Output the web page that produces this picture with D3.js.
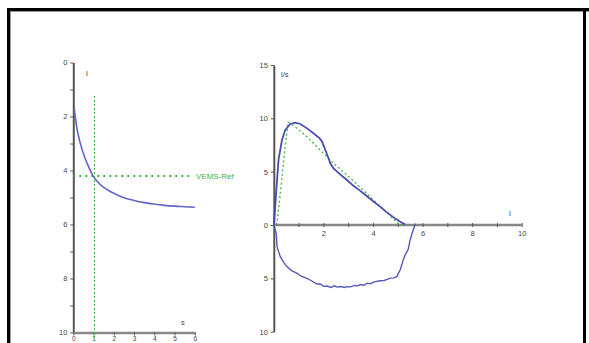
<!DOCTYPE html>
<html>
<head>
<meta charset="utf-8">
<script src="https://cdn.jsdelivr.net/npm/d3@7"></script>
<style>
  html, body { margin: 0; padding: 0; background: #fff; }
  svg { display: block; }
  text { font-family: "Liberation Sans", Arial, sans-serif; }
</style>
</head>
<body>
<script>
// ---------- data ----------
// Left chart: volume (l) vs time (s), axis inverted
const volTime = [0.05, 0.17, 0.33, 0.58, 0.79, 0.97, 1.2, 1.45, 1.7, 2.0, 2.47, 3.0, 3.5, 3.95, 4.5, 5.0, 5.5, 6.0];
const volValue = [1.73, 2.4, 2.95, 3.55, 3.92, 4.19, 4.42, 4.6, 4.72, 4.84, 5.0, 5.11, 5.19, 5.24, 5.29, 5.32, 5.34, 5.36];
const vemsRef = 4.2;     // reference volume (l)
const vemsTime = 1;      // 1 second marker
const leftXTicks = [0, 1, 2, 3, 4, 5, 6];
const leftYTicks = [0, 1, 2, 3, 4, 5, 6, 7, 8, 9, 10];

// Right chart: flow (l/s) vs volume (l)
const expVol = [0, 0.05, 0.1, 0.19, 0.33, 0.46, 0.66, 0.87, 1.07, 1.34, 1.6, 1.85, 1.95, 2.08, 2.2, 2.28, 2.41, 2.7, 2.95, 3.2, 3.49, 3.76, 4.02, 4.3, 4.5, 4.7, 4.9, 5.1, 5.3];
const expFlow = [0, 1.5, 3.2, 6.1, 7.97, 8.9, 9.47, 9.59, 9.47, 9.06, 8.6, 8.12, 7.8, 7.03, 6.3, 5.78, 5.31, 4.7, 4.22, 3.7, 3.2, 2.7, 2.2, 1.7, 1.3, 0.95, 0.6, 0.3, 0.05];
const inspVol = [0, 0.05, 0.1, 0.13, 0.26, 0.4, 0.53, 0.7, 0.94, 1.1, 1.34, 1.5, 1.74, 1.9, 2.0, 2.15, 2.3, 2.45, 2.55, 2.7, 2.85, 2.95, 3.1, 3.25, 3.35, 3.5, 3.65, 3.76, 3.9, 4.05, 4.29, 4.45, 4.6, 4.7, 4.85, 4.96, 5.1, 5.23, 5.32, 5.42, 5.5, 5.62, 5.72];
const inspFlow = [0, -0.4, -0.78, -2.03, -2.97, -3.5, -3.9, -4.25, -4.53, -4.8, -5.0, -5.2, -5.53, -5.55, -5.75, -5.72, -5.85, -5.7, -5.82, -5.76, -5.85, -5.78, -5.8, -5.66, -5.72, -5.58, -5.65, -5.45, -5.5, -5.33, -5.22, -5.2, -5.08, -4.98, -4.95, -4.84, -4.2, -3.2, -2.7, -2.3, -1.4, -0.47, 0.15];
const refVol = [0.12, 0.3, 0.45, 0.58, 0.94, 1.34, 1.87, 2.41, 2.95, 3.5, 4.0, 4.5, 5.05, 5.3];
const refFlow = [0, 3.8, 7.2, 9.65, 9.06, 8.28, 7.03, 5.78, 4.69, 3.5, 2.4, 1.3, 0.05, 0];
const rightXTicks = [1, 2, 3, 4, 5, 6, 7, 8, 9, 10];
const rightXLabels = [2, 4, 6, 8, 10];
const rightYTicks = [-10, -5, 0, 5, 10, 15];

// ---------- drawing ----------
const W = 589, H = 343;
const svg = d3.select("body").append("svg").attr("width", W).attr("height", H);

// frame
svg.append("rect").attr("x", 7).attr("y", 8).attr("width", W).attr("height", 3).attr("fill", "#000");
svg.append("rect").attr("x", 7).attr("y", 8).attr("width", 3).attr("height", H).attr("fill", "#000");
svg.append("rect").attr("x", 10).attr("y", 11).attr("width", W).attr("height", 1).attr("fill", "#999");
svg.append("rect").attr("x", 10).attr("y", 11).attr("width", 1).attr("height", H).attr("fill", "#999");
svg.append("rect").attr("x", 583).attr("y", 8).attr("width", 3).attr("height", H).attr("fill", "#000");

const axisColor = "#555";
const textColor = "#444";
const blue = "#4b4bb0";
const green = "#3fb63f";

// ----- Left chart -----
const xL = d3.scaleLinear().domain([0, 6]).range([73.3, 194.8]);
const yL = d3.scaleLinear().domain([0, 10]).range([62.5, 332.5]);

const gL = svg.append("g");
// y axis
const yAxL = gL.append("g").attr("transform", `translate(${xL(0)},0)`)
  .call(d3.axisLeft(yL).tickValues(leftYTicks).tickSize(3).tickSizeOuter(0)
    .tickFormat(d => d % 2 === 0 ? d : ""));
// x axis
const xAxL = gL.append("g").attr("transform", `translate(0,${yL(10)})`)
  .call(d3.axisBottom(xL).tickValues(leftXTicks).tickSize(3).tickSizeOuter(0)
    .tickFormat(d => d));
[yAxL, xAxL].forEach(a => {
  a.select(".domain").attr("stroke", axisColor).attr("stroke-width", 2);
  a.selectAll(".tick line").attr("stroke", axisColor).attr("stroke-width", 1);
  a.selectAll(".tick text").attr("fill", textColor).attr("font-size", 7.5);
});
xAxL.select(".domain").attr("stroke", "#888").attr("stroke-width", 2.5);
yAxL.selectAll(".tick text").attr("x", -6);
xAxL.selectAll(".tick text").attr("y", 4).attr("font-size", 6.5);

gL.append("text").attr("x", 86).attr("y", 76).attr("font-size", 8).attr("fill", textColor).text("l");
gL.append("text").attr("x", 181).attr("y", 325).attr("font-size", 7.5).attr("fill", textColor).text("s");

// reference lines
const vx = Math.round(xL(vemsTime)) + 0.5;
gL.append("line").attr("x1", vx).attr("x2", vx)
  .attr("y1", 96).attr("y2", 340)
  .attr("stroke", green).attr("stroke-width", 1).attr("stroke-dasharray", "2,2");
gL.append("line").attr("x1", xL(0)).attr("x2", 192)
  .attr("y1", yL(vemsRef)).attr("y2", yL(vemsRef))
  .attr("stroke", green).attr("stroke-width", 2).attr("stroke-dasharray", "2,4");
gL.append("text").attr("x", 196).attr("y", yL(vemsRef) + 3).attr("font-size", 8)
  .attr("fill", green).text("VEMS-Ref");

const volData = volTime.map((t, i) => [t, volValue[i]]);
gL.append("path").datum(volData)
  .attr("fill", "none").attr("stroke", "#6464c4").attr("stroke-width", 1.6)
  .attr("d", d3.line().x(d => xL(d[0])).y(d => yL(d[1])).curve(d3.curveMonotoneX));

// ----- Right chart -----
const xR = d3.scaleLinear().domain([0, 10]).range([273.8, 521.7]);
const yR = d3.scaleLinear().domain([-10, 15]).range([331.7, 65]);

const gR = svg.append("g");
const yAxR = gR.append("g").attr("transform", `translate(${xR(0)},0)`)
  .call(d3.axisLeft(yR).tickValues(rightYTicks).tickSize(3).tickSizeOuter(0)
    .tickFormat(d => Math.abs(d)));
const xAxR = gR.append("g").attr("transform", `translate(0,${yR(0)})`)
  .call(d3.axisBottom(xR).tickValues(rightXTicks).tickSize(3).tickSizeOuter(0)
    .tickFormat(d => rightXLabels.includes(d) ? d : ""));
xAxR.select(".domain").attr("d", `M${xR(0)},0H${xR(10)}`);
[yAxR, xAxR].forEach(a => {
  a.select(".domain").attr("stroke", axisColor).attr("stroke-width", 2);
  a.selectAll(".tick line").attr("stroke", axisColor).attr("stroke-width", 1);
  a.selectAll(".tick text").attr("fill", textColor).attr("font-size", 7.5);
});
xAxR.select(".domain").attr("stroke", "#888").attr("stroke-width", 2.5);
xAxR.selectAll(".tick line").attr("y1", -2).attr("y2", 2);
yAxR.selectAll(".tick text").attr("x", -6);
xAxR.selectAll(".tick text").attr("y", 6);

gR.append("text").attr("x", 281).attr("y", 77).attr("font-size", 7.5).attr("fill", textColor).text("l/s");
gR.append("text").attr("x", 509).attr("y", 216).attr("font-size", 8).attr("fill", textColor).text("l");

const lineR = d3.line().x(d => xR(d[0])).y(d => yR(d[1]));
gR.append("path").datum(refVol.map((v, i) => [v, refFlow[i]]))
  .attr("fill", "none").attr("stroke", green).attr("stroke-width", 1.3)
  .attr("stroke-dasharray", "2,2.5").attr("d", lineR);
gR.append("path").datum(inspVol.map((v, i) => [v, inspFlow[i]]))
  .attr("fill", "none").attr("stroke", "#5858bc").attr("stroke-width", 1.4).attr("d", lineR);
gR.append("path").datum(expVol.map((v, i) => [v, expFlow[i]]))
  .attr("fill", "none").attr("stroke", blue).attr("stroke-width", 1.8).attr("d", lineR);
</script>
</body>
</html>
